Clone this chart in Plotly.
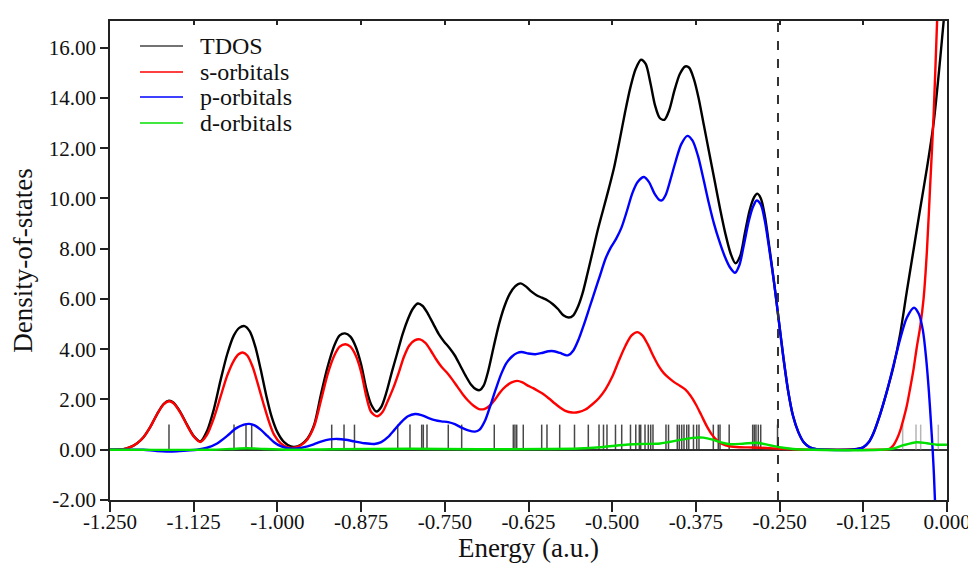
import plotly.graph_objects as go

# ---------------- data ----------------
tdos_x = [-1.25, -1.23, -1.22, -1.21, -1.20, -1.19, -1.18, -1.17, -1.162, -1.155, -1.145, -1.135, -1.125,
          -1.115, -1.105, -1.095, -1.085, -1.075, -1.065, -1.057, -1.049, -1.041, -1.033, -1.025, -1.017,
          -1.009, -1.0, -0.99, -0.98, -0.975, -0.965, -0.955, -0.945, -0.935, -0.925, -0.915, -0.907,
          -0.899, -0.891, -0.883, -0.875, -0.867, -0.86, -0.852, -0.845, -0.837, -0.829, -0.821, -0.813,
          -0.805, -0.798, -0.7905, -0.783, -0.775, -0.767, -0.759, -0.751, -0.743, -0.735, -0.727, -0.719,
          -0.711, -0.703, -0.698, -0.692, -0.685, -0.677, -0.669, -0.661, -0.653, -0.645, -0.637, -0.629,
          -0.621, -0.613, -0.605, -0.597, -0.589, -0.581, -0.573, -0.565, -0.558, -0.551, -0.544, -0.537,
          -0.529, -0.521, -0.513, -0.505, -0.497, -0.489, -0.481, -0.473, -0.465, -0.457, -0.45, -0.443,
          -0.436, -0.429, -0.422, -0.415, -0.407, -0.399, -0.391, -0.385, -0.378, -0.371, -0.363, -0.355,
          -0.347, -0.339, -0.331, -0.323, -0.316, -0.309, -0.302, -0.295, -0.288, -0.2833, -0.278, -0.272,
          -0.265, -0.258, -0.251, -0.244, -0.237, -0.23, -0.222, -0.214, -0.205, -0.195, -0.18, -0.15,
          -0.135, -0.125, -0.117, -0.11, -0.1, -0.09, -0.08, -0.07, -0.06, -0.05, -0.04, -0.03, -0.02,
          -0.01, 0.0]
tdos_y = [0, 0.02, 0.1, 0.25, 0.5, 0.9, 1.4, 1.82, 1.95, 1.87, 1.5, 1.0, 0.55,
          0.33, 0.75, 1.6, 2.75, 3.8, 4.55, 4.85, 4.92, 4.7, 4.1, 3.2, 2.2,
          1.35, 0.7, 0.3, 0.13, 0.11, 0.2, 0.45, 1.0, 2.2, 3.3, 4.15, 4.55,
          4.63, 4.5, 4.1, 3.4, 2.4, 1.8, 1.52, 1.7, 2.3, 3.1, 3.85, 4.6,
          5.2, 5.6, 5.82, 5.72, 5.4, 5.0, 4.6, 4.3, 4.05, 3.75, 3.35, 2.95,
          2.6, 2.4, 2.37, 2.55, 3.15, 4.1, 5.0, 5.7, 6.2, 6.5, 6.62, 6.5,
          6.3, 6.15, 6.05, 5.95, 5.8, 5.6, 5.35, 5.26, 5.35, 5.7, 6.25, 7.0,
          7.9, 8.8, 9.6, 10.4, 11.25, 12.3, 13.4, 14.4, 15.15, 15.52, 15.35, 14.6,
          13.7, 13.2, 13.13, 13.5, 14.3, 14.95, 15.25, 15.2, 14.75, 14.0, 12.9, 11.8,
          10.7, 9.6, 8.6, 7.8, 7.42, 7.7, 8.6, 9.5, 10.05, 10.19, 10.0, 9.3,
          8.0, 6.6, 5.1, 3.6, 2.3, 1.35, 0.7, 0.3, 0.1, 0.02, 0, 0,
          0.03, 0.1, 0.3, 0.65, 1.4, 2.3, 3.3, 4.6, 6.3, 7.95, 9.6, 11.2, 13.0,
          15.6, 18.5]

s_x = [-1.25, -1.23, -1.22, -1.21, -1.20, -1.19, -1.18, -1.17, -1.162, -1.155, -1.145, -1.135, -1.125,
       -1.115, -1.105, -1.095, -1.085, -1.075, -1.065, -1.058, -1.0518, -1.045, -1.037, -1.029, -1.021,
       -1.013, -1.005, -0.995, -0.985, -0.975, -0.965, -0.955, -0.945, -0.935, -0.925, -0.915, -0.907,
       -0.8985, -0.891, -0.883, -0.875, -0.867, -0.86, -0.851, -0.843, -0.835, -0.827, -0.819, -0.811,
       -0.803, -0.795, -0.787, -0.779, -0.771, -0.763, -0.755, -0.747, -0.739, -0.731, -0.723, -0.715,
       -0.707, -0.699, -0.691, -0.683, -0.675, -0.667, -0.659, -0.651, -0.642, -0.634, -0.626, -0.618,
       -0.61, -0.602, -0.594, -0.586, -0.578, -0.57, -0.56, -0.55, -0.54, -0.53, -0.52, -0.51, -0.5,
       -0.49, -0.48, -0.471, -0.4625, -0.455, -0.447, -0.439, -0.431, -0.423, -0.415, -0.407, -0.399,
       -0.391, -0.383, -0.375, -0.367, -0.359, -0.351, -0.343, -0.335, -0.325, -0.31, -0.29, -0.27,
       -0.25, -0.23, -0.2, -0.1, -0.09, -0.085, -0.08, -0.075, -0.07, -0.065, -0.06, -0.055, -0.05,
       -0.045, -0.04, -0.035, -0.03, -0.025, -0.02, -0.015, -0.01]
s_y = [0, 0.02, 0.1, 0.25, 0.5, 0.9, 1.4, 1.8, 1.93, 1.85, 1.48, 0.98, 0.53,
       0.31, 0.6, 1.25, 2.1, 2.95, 3.55, 3.8, 3.87, 3.75, 3.3, 2.6, 1.85,
       1.15, 0.6, 0.25, 0.1, 0.08, 0.18, 0.42, 0.95, 1.95, 3.0, 3.75, 4.1,
       4.2, 4.1, 3.75, 3.1, 2.1, 1.5, 1.33, 1.5, 1.95, 2.45, 3.05, 3.7,
       4.15, 4.35, 4.39, 4.25, 3.95, 3.6, 3.3, 3.07, 2.8, 2.5, 2.2, 1.95,
       1.75, 1.62, 1.62, 1.75, 2.0, 2.3, 2.52, 2.67, 2.74, 2.68, 2.55, 2.45,
       2.33, 2.2, 2.03, 1.85, 1.68, 1.55, 1.48, 1.5, 1.6, 1.8, 2.05, 2.4, 2.9,
       3.55, 4.15, 4.55, 4.68, 4.55, 4.2, 3.75, 3.35, 3.05, 2.85, 2.68, 2.55,
       2.4, 2.15, 1.8, 1.38, 0.95, 0.6, 0.36, 0.22, 0.14, 0.1, 0.09, 0.07,
       0.04, 0.02, 0, 0, 0.01, 0.05, 0.18, 0.42, 0.75, 1.22, 1.75, 2.45, 3.2,
       4.1, 4.9, 6.0, 7.9, 10.6, 13.3, 16.9, 20.5]

p_x = [-1.25, -1.2, -1.19, -1.18, -1.165, -1.15, -1.135, -1.12, -1.105, -1.09, -1.075, -1.062, -1.05,
       -1.042, -1.034, -1.025, -1.015, -1.005, -0.995, -0.985, -0.975, -0.965, -0.955, -0.945, -0.935,
       -0.922, -0.9105, -0.898, -0.885, -0.87, -0.855, -0.845, -0.835, -0.825, -0.815, -0.805, -0.7945,
       -0.785, -0.775, -0.765, -0.755, -0.745, -0.735, -0.725, -0.715, -0.705, -0.698, -0.69, -0.682,
       -0.674, -0.666, -0.658, -0.65, -0.642, -0.6353, -0.625, -0.615, -0.605, -0.595, -0.587, -0.578,
       -0.57, -0.5655, -0.558, -0.55, -0.542, -0.534, -0.526, -0.518, -0.51, -0.502, -0.494, -0.486,
       -0.478, -0.47, -0.462, -0.4525, -0.445, -0.437, -0.43, -0.4261, -0.42, -0.413, -0.405, -0.397,
       -0.3878, -0.38, -0.372, -0.364, -0.356, -0.348, -0.34, -0.332, -0.324, -0.3166, -0.31, -0.303,
       -0.296, -0.29, -0.2842, -0.278, -0.272, -0.265, -0.258, -0.251, -0.244, -0.237, -0.23, -0.222,
       -0.214, -0.205, -0.195, -0.18, -0.14, -0.13, -0.125, -0.117, -0.11, -0.1, -0.09, -0.08, -0.07,
       -0.06, -0.0493, -0.042, -0.036, -0.031, -0.027, -0.024, -0.0215, -0.0195, -0.018, -0.015]
p_y = [0, 0, -0.02, -0.05, -0.07, -0.06, -0.03, 0.0, 0.08, 0.25, 0.55, 0.85, 1.0,
       1.03, 0.97, 0.8, 0.55, 0.3, 0.14, 0.06, 0.04, 0.07, 0.13, 0.22, 0.32,
       0.41, 0.43, 0.4, 0.33, 0.26, 0.23, 0.3, 0.5, 0.8, 1.1, 1.33, 1.42,
       1.38, 1.27, 1.18, 1.13, 1.1, 1.02, 0.88, 0.77, 0.72, 0.8, 1.15, 1.75,
       2.4, 3.0, 3.45, 3.7, 3.85, 3.89, 3.83, 3.8, 3.85, 3.92, 3.92, 3.85,
       3.77, 3.76, 3.95, 4.4, 5.0, 5.65, 6.3, 6.95, 7.6, 8.05, 8.4, 8.85,
       9.5, 10.2, 10.65, 10.85, 10.65, 10.2, 9.95, 9.92, 10.15, 10.75, 11.5, 12.15,
       12.49, 12.3, 11.7, 10.8, 9.85, 9.0, 8.3, 7.7, 7.25, 7.04, 7.35, 8.2,
       9.1, 9.65, 9.92, 9.75, 9.1, 7.9, 6.6, 5.1, 3.6, 2.3, 1.35, 0.7,
       0.3, 0.1, 0.02, 0, 0, 0.04, 0.1, 0.3, 0.65, 1.4, 2.3, 3.35, 4.4,
       5.25, 5.65, 5.4, 4.75, 3.6, 2.3, 1.1, 0.03, -1.0, -2.0, -3.5]

d_x = [-1.25, -1.1, -1.07, -1.045, -1.02, -0.98, -0.92, -0.8, -0.7, -0.6, -0.55, -0.518, -0.49,
       -0.4585, -0.4286, -0.40, -0.38, -0.364, -0.35, -0.339, -0.324, -0.305, -0.284, -0.265, -0.25,
       -0.23, -0.2, -0.1, -0.08, -0.065, -0.045, -0.03, -0.015, 0.0]
d_y = [0, 0.0, 0.03, 0.06, 0.03, 0.0, 0.02, 0.04, 0.02, 0.03, 0.05, 0.1, 0.18,
       0.23, 0.25, 0.38, 0.47, 0.48, 0.4, 0.3, 0.22, 0.24, 0.28, 0.18, 0.1,
       0.03, 0.0, 0.0, 0.05, 0.18, 0.3, 0.26, 0.2, 0.2]

# molecular-orbital energies (sticks)
occupied_levels = [-1.1619, -1.0648, -1.0469, -1.0384, -0.9189, -0.9005, -0.8849, -0.8203, -0.8020,
                   -0.7845, -0.7821, -0.7766, -0.7448, -0.7248, -0.6761, -0.6477, -0.6452, -0.6426,
                   -0.6328, -0.6053, -0.5974, -0.5784, -0.5563, -0.5357, -0.5197, -0.5130, -0.5078,
                   -0.4951, -0.4858, -0.4727, -0.4648, -0.4595, -0.4574, -0.4510, -0.4461, -0.4425,
                   -0.4391, -0.4197, -0.4159, -0.4028, -0.3998, -0.3962, -0.3928, -0.3887, -0.3856,
                   -0.3786, -0.3738, -0.3704, -0.3490, -0.3416, -0.3390, -0.3253, -0.2902, -0.2878,
                   -0.2853, -0.2818, -0.2782, -0.2531]
virtual_levels = [-0.0662, -0.0463, -0.0393, -0.0130]
stick_height = 1.0
homo_energy = -0.2524

x_tick_vals = [-1.25, -1.125, -1.0, -0.875, -0.75, -0.625, -0.5, -0.375, -0.25, -0.125, 0.0]
x_tick_text = ["-1.250", "-1.125", "-1.000", "-0.875", "-0.750", "-0.625", "-0.500",
               "-0.375", "-0.250", "-0.125", "0.000"]
y_tick_vals = [-2, 0, 2, 4, 6, 8, 10, 12, 14, 16]
y_tick_text = ["-2.00", "0.00", "2.00", "4.00", "6.00", "8.00", "10.00", "12.00", "14.00", "16.00"]

series_names = ["TDOS", "s-orbitals", "p-orbitals", "d-orbitals"]
series_colors = ["#000000", "#ff0000", "#0000ff", "#00e000"]

X_RANGE = [-1.25, 0.0]
Y_RANGE = [-2.0, 17.06]
FONT = "Liberation Serif"


def sticks(levels):
    xs, ys = [], []
    for e in levels:
        xs += [e, e, None]
        ys += [0, stick_height, None]
    return xs, ys


fig = go.Figure()

ox, oy = sticks(occupied_levels)
fig.add_trace(go.Scatter(x=ox, y=oy, mode="lines", line=dict(color="rgba(40,40,40,0.85)", width=1.5),
                         showlegend=False, hoverinfo="skip"))
vx, vy = sticks(virtual_levels)
fig.add_trace(go.Scatter(x=vx, y=vy, mode="lines", line=dict(color="rgba(150,150,150,0.7)", width=1.5),
                         showlegend=False, hoverinfo="skip"))

for xs, ys, name, col in [(tdos_x, tdos_y, series_names[0], series_colors[0]),
                          (s_x, s_y, series_names[1], series_colors[1]),
                          (p_x, p_y, series_names[2], series_colors[2]),
                          (d_x, d_y, series_names[3], series_colors[3])]:
    fig.add_trace(go.Scatter(x=xs, y=ys, mode="lines", name=name,
                             line=dict(color=col, width=2.4, shape="spline", smoothing=0.8),
                             showlegend=False))

# dummy trace so the top mirror axis (inside ticks) is drawn
fig.add_trace(go.Scatter(x=[None], y=[None], xaxis="x2", showlegend=False, hoverinfo="skip"))

# HOMO dashed line
fig.add_shape(type="line", xref="x", yref="paper", x0=homo_energy, x1=homo_energy, y0=0, y1=1,
              line=dict(color="#333333", width=2, dash="dash"))

# manual legend (positions relative to the plot area: 837 x 479 px)
leg_y_px = [25, 51, 76, 102]
for name, col, ypx in zip(series_names, series_colors, leg_y_px):
    yp = 1 - ypx / 479.0
    fig.add_shape(type="line", xref="paper", yref="paper", x0=30 / 837.0, x1=73 / 837.0,
                  y0=yp, y1=yp, line=dict(color=col if name != "TDOS" else "#444444", width=1.6))
    fig.add_annotation(xref="paper", yref="paper", x=88 / 837.0, y=yp, text=name,
                       showarrow=False, xanchor="left", yanchor="middle",
                       font=dict(family=FONT, size=24, color="#111111"))

axis_common = dict(showgrid=False, showline=True, linecolor="#222222", linewidth=1.5,
                   tickcolor="#222222", tickwidth=1.5, automargin=False,
                   tickfont=dict(family=FONT, size=21, color="#111111"))

# page has an 8px body margin, so the figure is 968x555 placed at (8, 8)
fig.update_layout(
    width=968, height=555,
    margin=dict(l=102, r=29, t=13, b=63),
    paper_bgcolor="white", plot_bgcolor="white",
    xaxis=dict(range=X_RANGE, tickvals=x_tick_vals, ticktext=x_tick_text, ticks="outside", ticklen=10,
               ticklabelstandoff=-8, mirror=True, zeroline=False,
               title=dict(text="Energy (a.u.)", font=dict(family=FONT, size=27, color="#111111"), standoff=4),
               **axis_common),
    xaxis2=dict(range=X_RANGE, overlaying="x", side="top", anchor="y", tickvals=x_tick_vals,
                ticks="inside", ticklen=4, tickcolor="#222222", tickwidth=1.5, showticklabels=False,
                showline=False, showgrid=False, zeroline=False),
    yaxis=dict(range=Y_RANGE, tickvals=y_tick_vals, ticktext=y_tick_text, ticks="outside", ticklen=8,
               mirror=True, zeroline=True, zerolinecolor="#333333", zerolinewidth=1.5,
               title=dict(text="Density-of-states", font=dict(family=FONT, size=27, color="#111111"), standoff=8),
               **axis_common),
)

fig.write_html("out.html")
